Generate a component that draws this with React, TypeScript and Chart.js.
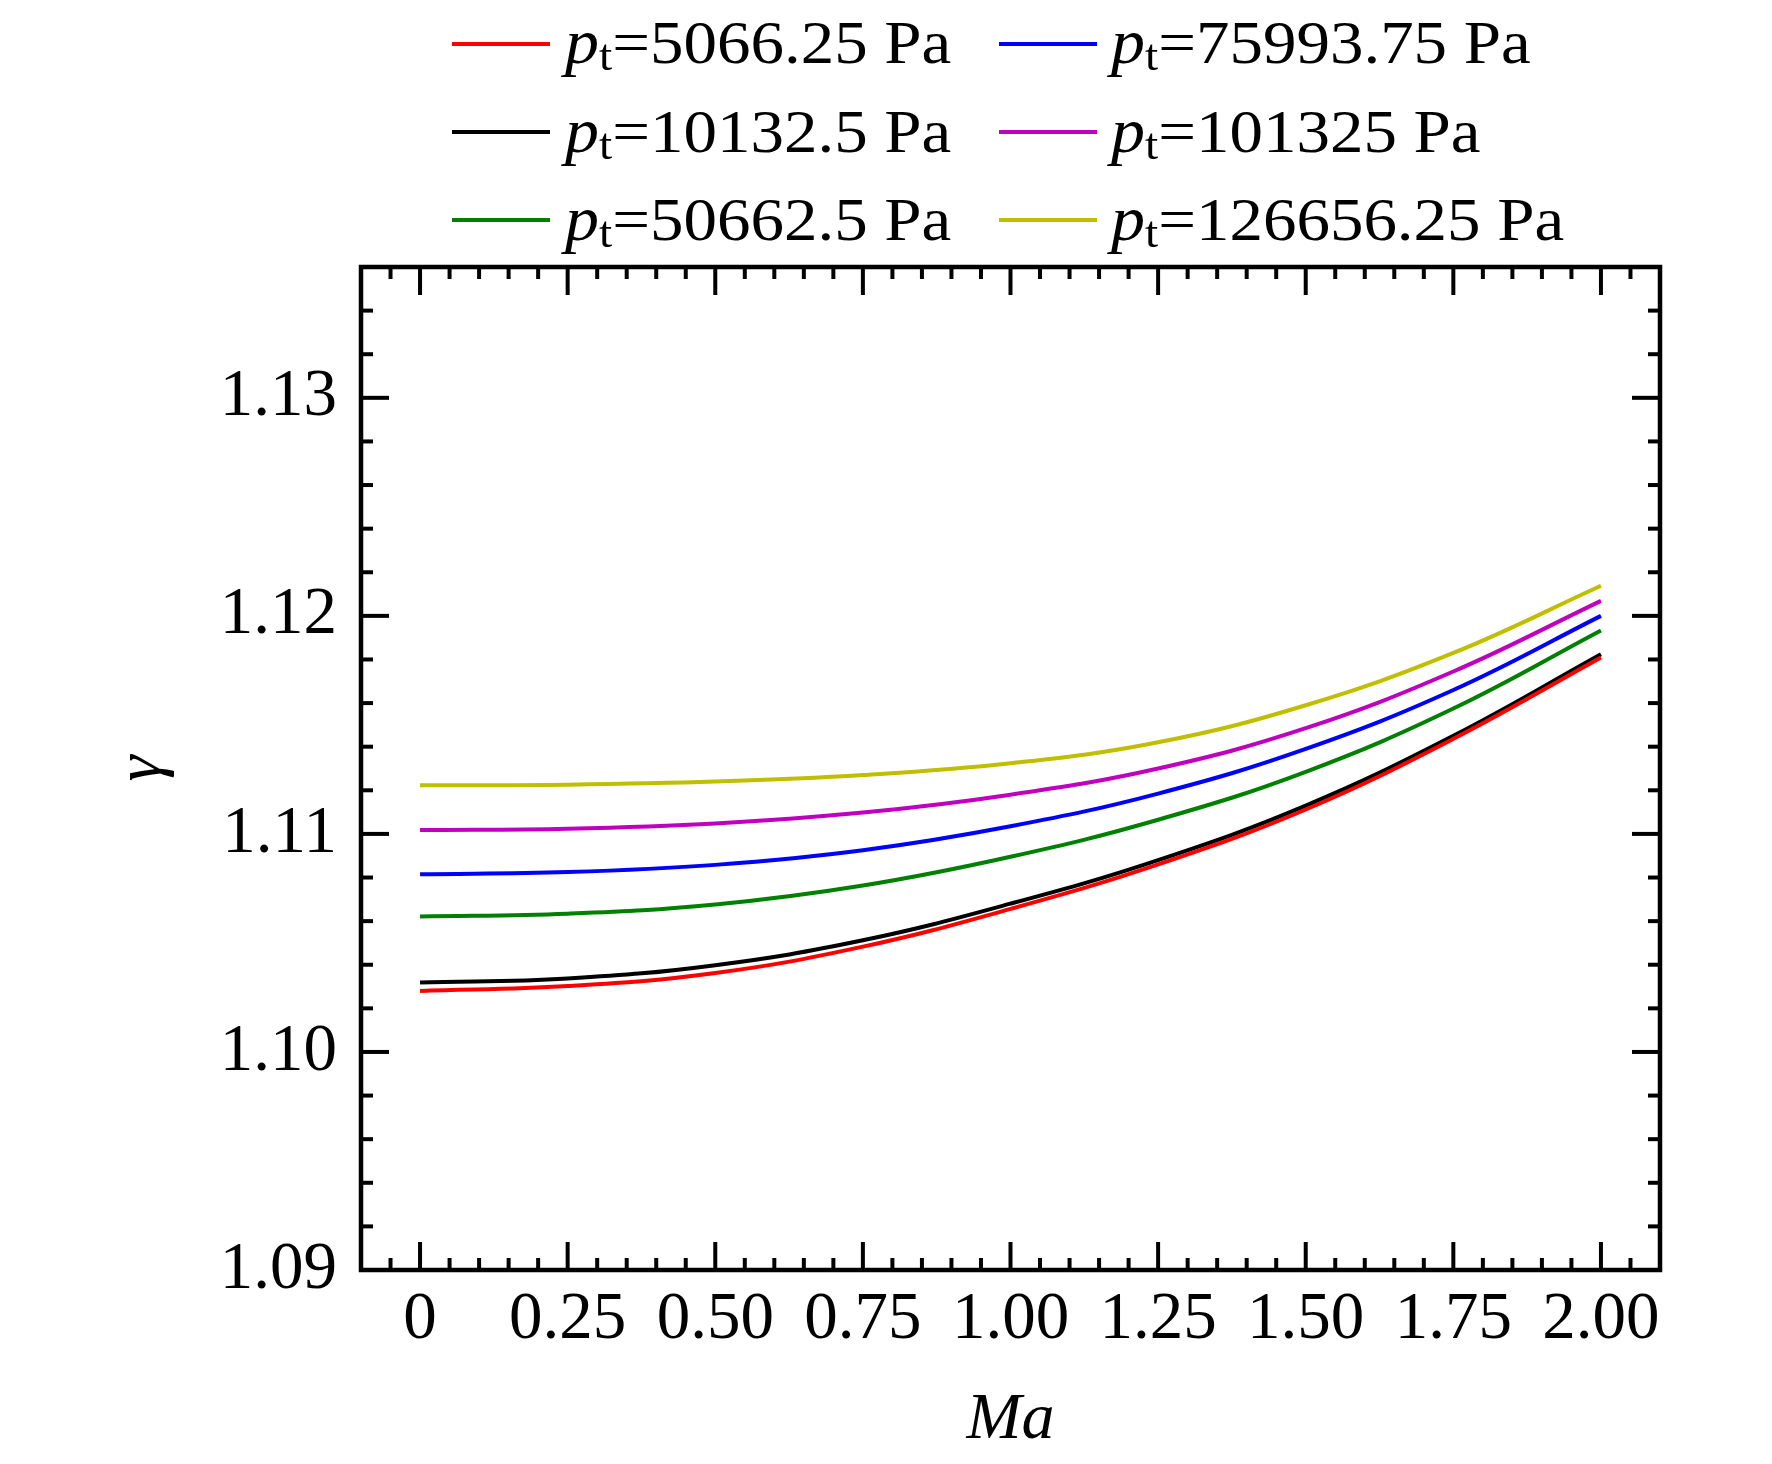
import { useEffect, useRef } from 'react';
import { Chart, registerables } from 'chart.js';

Chart.register(...registerables);

const FAMILY = "'Liberation Serif', 'Times New Roman', serif";

// Mach number samples (x)
const MACH = [0, 0.25, 0.5, 0.75, 1.0, 1.25, 1.5, 1.75, 2.0];

// gamma, one array per total pressure
const GAMMA_5066 = [1.1028, 1.10302, 1.10362, 1.10483, 1.10656, 1.1086, 1.11112, 1.11436, 1.11809];
const GAMMA_10132 = [1.10318, 1.10337, 1.10398, 1.10512, 1.1068, 1.1088, 1.1113, 1.1145, 1.11824];
const GAMMA_50662 = [1.10621, 1.10634, 1.10676, 1.10763, 1.10895, 1.11065, 1.11285, 1.11575, 1.11933];
const GAMMA_75993 = [1.10815, 1.10825, 1.10858, 1.10925, 1.11035, 1.11185, 1.1139, 1.1166, 1.12];
const GAMMA_101325 = [1.11018, 1.11024, 1.11048, 1.11098, 1.1118, 1.113, 1.11485, 1.11745, 1.12069];
const GAMMA_126656 = [1.11223, 1.11226, 1.1124, 1.1127, 1.11324, 1.1142, 1.1159, 1.1183, 1.12138];

const PRESSURES = ['5066.25', '10132.5', '50662.5', '75993.75', '101325', '126656.25'];
const SERIES = [GAMMA_5066, GAMMA_10132, GAMMA_50662, GAMMA_75993, GAMMA_101325, GAMMA_126656];
const COLORS = ['#ff0000', '#000000', '#008000', '#0000ff', '#bf00bf', '#bfbf00'];

const MACH_TICKS = [0, 0.25, 0.5, 0.75, 1.0, 1.25, 1.5, 1.75, 2.0];
const GAMMA_TICKS = [1.09, 1.1, 1.11, 1.12, 1.13];

// inward ticks on all four sides plus the box
const frameTicks = {
  id: 'frameTicks',
  afterDatasetsDraw(chart: any) {
    const { ctx, chartArea: a, scales } = chart;
    const sx = scales.x;
    const sy = scales.y;
    const seg = (x1: number, y1: number, x2: number, y2: number) => {
      ctx.beginPath();
      ctx.moveTo(x1, y1);
      ctx.lineTo(x2, y2);
      ctx.stroke();
    };
    ctx.save();
    ctx.strokeStyle = '#000';
    ctx.lineWidth = 4;
    const xTick = (v: number, len: number) => {
      const px = sx.getPixelForValue(v);
      seg(px, a.bottom, px, a.bottom - len);
      seg(px, a.top, px, a.top + len);
    };
    const yTick = (v: number, len: number) => {
      const py = sy.getPixelForValue(v);
      seg(a.left, py, a.left + len, py);
      seg(a.right, py, a.right - len, py);
    };
    for (let k = -1; k <= 41; k++) {
      if (k % 5 !== 0) xTick(k * 0.05, 12);
    }
    MACH_TICKS.forEach((v) => xTick(v, 28));
    for (let k = 1; k <= 22; k++) {
      if (k % 5 !== 0) yTick(1.09 + k * 0.002, 12);
    }
    GAMMA_TICKS.forEach((v) => yTick(v, 28));
    ctx.lineWidth = 4.5;
    ctx.strokeRect(a.left, a.top, a.right - a.left, a.bottom - a.top);
    ctx.restore();
  },
};

// two-column legend with subscripted p_t
const ptLegend = {
  id: 'ptLegend',
  afterDraw(chart: any) {
    const { ctx } = chart;
    const lineX = [[452, 550], [999, 1097]];
    const textX = [565, 1111];
    const lineY = [44, 132, 220];
    const baseY = [63, 152, 240];
    chart.data.datasets.forEach((ds: any, i: number) => {
      const col = Math.floor(i / 3);
      const row = i % 3;
      ctx.save();
      ctx.strokeStyle = ds.borderColor;
      ctx.lineWidth = 4;
      ctx.beginPath();
      ctx.moveTo(lineX[col][0], lineY[row]);
      ctx.lineTo(lineX[col][1], lineY[row]);
      ctx.stroke();

      ctx.translate(textX[col], baseY[row]);
      ctx.scale(1.08, 1);
      ctx.fillStyle = '#000';
      ctx.textBaseline = 'alphabetic';
      ctx.textAlign = 'left';
      ctx.font = `italic 63px ${FAMILY}`;
      ctx.fillText('p', 0, 0);
      let w = ctx.measureText('p').width;
      ctx.font = `44px ${FAMILY}`;
      ctx.fillText('t', w, 7);
      w += ctx.measureText('t').width;
      ctx.font = `62px ${FAMILY}`;
      ctx.fillText(`=${PRESSURES[i]} Pa`, w, 0);
      ctx.restore();
    });
  },
};

export default function App() {
  const canvasRef = useRef<HTMLCanvasElement>(null);
  const chartRef = useRef<Chart | null>(null);

  useEffect(() => {
    if (!canvasRef.current) return;
    if (chartRef.current) chartRef.current.destroy();

    Chart.defaults.font.family = FAMILY;
    Chart.defaults.color = '#000';

    chartRef.current = new Chart(canvasRef.current, {
      type: 'line',
      data: {
        datasets: SERIES.map((vals, i) => ({
          label: PRESSURES[i],
          data: MACH.map((m, j) => ({ x: m, y: vals[j] })),
          borderColor: COLORS[i],
          backgroundColor: COLORS[i],
          borderWidth: 4,
          pointRadius: 0,
          fill: false,
          tension: 0.4,
        })),
      },
      options: {
        animation: false,
        responsive: true,
        maintainAspectRatio: false,
        layout: { padding: { top: 267, right: 112, bottom: 0, left: 0 } },
        plugins: {
          legend: { display: false },
          tooltip: { enabled: false },
        },
        scales: {
          x: {
            type: 'linear',
            min: -0.1,
            max: 2.1,
            afterBuildTicks: (s: any) => {
              s.ticks = MACH_TICKS.map((v) => ({ value: v }));
            },
            afterFit: (s: any) => {
              s.height = 194;
            },
            grid: { display: false, drawTicks: false },
            border: { display: false },
            ticks: {
              color: '#000',
              font: { size: 67 },
              padding: 10,
              maxRotation: 0,
              autoSkip: false,
              callback: (v: any) => (Number(v) === 0 ? '0' : Number(v).toFixed(2)),
            },
            title: {
              display: true,
              text: 'Ma',
              color: '#000',
              font: { size: 66, style: 'italic' },
              padding: { top: 0, bottom: 4 },
            },
          },
          y: {
            type: 'linear',
            min: 1.09,
            max: 1.136,
            afterBuildTicks: (s: any) => {
              s.ticks = GAMMA_TICKS.map((v) => ({ value: v }));
            },
            afterFit: (s: any) => {
              s.width = 361;
            },
            grid: { display: false, drawTicks: false },
            border: { display: false },
            ticks: {
              color: '#000',
              font: { size: 67 },
              padding: 24,
              autoSkip: false,
              callback: (v: any) => Number(v).toFixed(2),
            },
            title: {
              display: true,
              text: 'γ',
              color: '#000',
              font: { size: 66, style: 'italic' },
              padding: { top: 103, bottom: 0 },
            },
          },
        },
      },
      plugins: [frameTicks, ptLegend],
    });

    return () => {
      if (chartRef.current) {
        chartRef.current.destroy();
        chartRef.current = null;
      }
    };
  }, []);

  return (
    <div style={{ position: 'absolute', left: 0, top: 0, width: '1772px', height: '1464px', background: '#fff' }}>
      <canvas ref={canvasRef} />
    </div>
  );
}
